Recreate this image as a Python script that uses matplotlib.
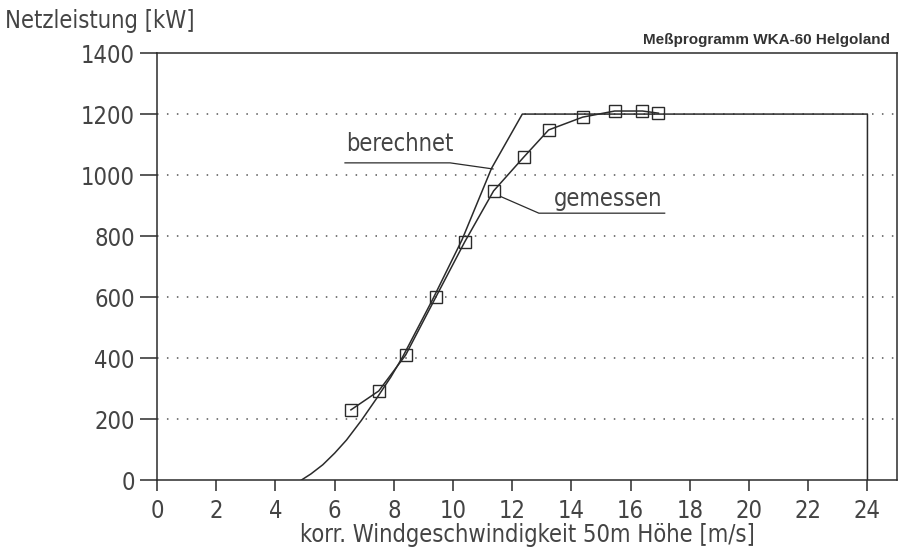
import matplotlib.pyplot as plt
import numpy as np

# Leistungskurve WKA-60: berechnet vs. gemessen
v_ber = [4.88, 5.2, 5.6, 6.0, 6.4, 6.9, 7.4, 7.9, 8.3, 9.3, 10.3, 11.3, 12.34, 24.0, 24.0]
p_ber = [0, 20, 50, 88, 131, 195, 265, 338, 404, 590, 787, 1022, 1200, 1200, 0]

v_mess = [6.55, 7.49, 8.40, 9.42, 10.39, 11.37, 12.39, 13.23, 14.38, 15.46, 16.40, 16.94]
p_mess = [230, 292, 410, 600, 780, 948, 1059, 1148, 1190, 1210, 1210, 1203]

x_ticks = list(range(0, 25, 2))
y_ticks = list(range(0, 1401, 200))

ink = '#2b2b2b'
txt = '#444444'
plt.rcParams['font.family'] = ['DejaVu Sans']
plt.rcParams['font.stretch'] = 'condensed'

fig = plt.figure(figsize=(9.03, 5.53), dpi=100)
ax = fig.add_axes([0.1739, 0.132, 0.8195, 0.772])

ax.plot(v_ber, p_ber, color=ink, lw=1.1)
ax.plot(v_mess, p_mess, color=ink, lw=1.1, marker='s', ms=9,
        mfc='none', mec=ink, mew=1.0)

ax.set_xlim(0, 25)
ax.set_ylim(0, 1400)
ax.set_xticks(x_ticks)
ax.set_yticks(y_ticks)
for y in y_ticks[1:-1]:
    ax.axhline(y, color='#555555', lw=1.1, ls=(0, (1, 5.5)), zorder=0)

for s in ax.spines.values():
    s.set_color(ink)
    s.set_linewidth(1.1)

ax.tick_params(axis='both', colors=ink, labelsize=17, width=1.1)
ax.tick_params(axis='y', length=12, pad=4)
ax.tick_params(axis='x', length=8, pad=6)
for lab in ax.get_xticklabels() + ax.get_yticklabels():
    lab.set_color(txt)

fig.text(0.006, 0.962, 'Netzleistung [kW]', fontsize=17, color=txt,
         ha='left', va='center')
fig.text(0.9856, 0.928, 'Meßprogramm WKA-60 Helgoland', fontsize=11,
         fontweight='bold', color='#333333', ha='right', va='center',
         family='Liberation Sans', stretch='normal')
ax.set_xlabel('korr. Windgeschwindigkeit 50m Höhe [m/s]', fontsize=17,
              color=txt, labelpad=0)

# Beschriftungen mit unterstrichenem Text und Hinweislinie
ax.text(6.4, 1062, 'berechnet', fontsize=17, color=txt,
        ha='left', va='bottom')
ax.plot([6.35, 9.9, 11.35], [1040, 1040, 1020], color=ink, lw=0.9)
ax.text(13.4, 882, 'gemessen', fontsize=17, color=txt,
        ha='left', va='bottom')
ax.plot([17.15, 12.9, 11.6], [875, 875, 930], color=ink, lw=0.9)

fig.savefig('out.png', dpi=100)
